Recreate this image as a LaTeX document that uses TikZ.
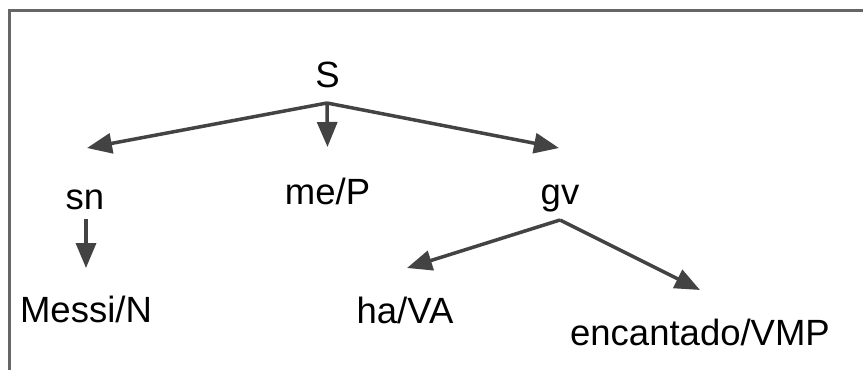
\documentclass[tikz,border=0pt]{standalone}
\usepackage{fontspec}
\setmainfont{Liberation Sans}
\usetikzlibrary{arrows.meta}
\definecolor{edgegray}{HTML}{434343}
\definecolor{framegray}{HTML}{666666}
\begin{document}
\begin{tikzpicture}[x=1bp,y=-1bp,
  lbl/.style={anchor=base,inner sep=0pt,font=\fontsize{36.5bp}{44bp}\selectfont},
  edge/.style={draw=edgegray,line width=3.5bp,
    -{Triangle[length=25bp,width=20bp]}},
  frame/.style={draw=framegray,line width=2.5bp}]
\useasboundingbox (0,0) rectangle (863,370);
% open frame: top and left sides only
\draw[frame] (9.5,370) -- (9.5,10.5) -- (863,10.5);

% labels of the tree
\node[lbl] (S)     at (327.5,87)  {S};
\node[lbl] (sn)    at (85,209)    {sn};
\node[lbl] (meP)   at (327.5,204) {me/P};
\node[lbl] (gv)    at (560,204)   {gv};
\node[lbl] (messi) at (86,322)    {Messi/N};
\node[lbl] (ha)    at (405,323)   {ha/VA};
\node[lbl] (enc)   at (700,345)   {encantado/VMP};

% branching points and arrow targets
\coordinate (jS)  at (327,103);
\coordinate (jsn) at (86,219);
\coordinate (jgv) at (560,220);
\coordinate (tsn)  at (87,148);
\coordinate (tmeP) at (327.5,147);
\coordinate (tgv)  at (559,148);
\coordinate (tmessi) at (86,268);
\coordinate (tha)  at (407,268);
\coordinate (tenc) at (700,290);

\draw[edge] (jS) -- (tsn);
\draw[edge] (jS) -- (tmeP);
\draw[edge] (jS) -- (tgv);
\draw[edge] (jsn) -- (tmessi);
\draw[edge] (jgv) -- (tha);
\draw[edge] (jgv) -- (tenc);
\end{tikzpicture}
\end{document}
